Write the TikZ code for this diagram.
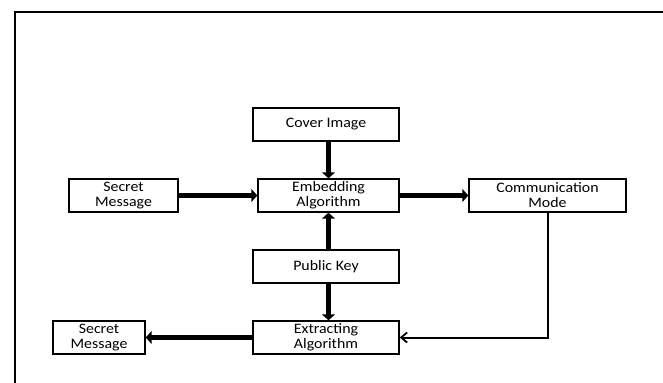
\documentclass[tikz,border=0pt]{standalone}
\usepackage{fontspec}
\setmainfont{Carlito}[FakeStretch=1.1]
\usetikzlibrary{arrows.meta}
\begin{document}
\begin{tikzpicture}[x=1bp,y=-1bp,
  blockbox/.style={draw,line width=1.4bp,rectangle,inner sep=0pt,minimum height=33bp,
    align=center,font=\fontsize{14.5}{15}\selectfont},
  thickarrow/.style={line width=5bp,-{Triangle[length=6bp,width=13bp]}},
  thinarrow/.style={line width=2bp,-{Straight Barb[length=6bp,width=10bp,line width=1.8bp]}}]
\useasboundingbox (0,0) rectangle (663,382);
\clip (0,0) rectangle (663,382);
\draw[line width=2bp] (15,390) -- (15,12) -- (670,12);
\node[blockbox,minimum width=146bp] (cover) at (326,124.5) {Cover Image};
\node[blockbox,minimum width=141bp] (emb) at (328.5,195.5) {Embedding\\Algorithm};
\node[blockbox,minimum width=109bp] (sm1) at (123.5,195.5) {Secret\\Message};
\node[blockbox,minimum width=157bp] (comm) at (547.5,195.5) {Communication\\Mode};
\node[blockbox,minimum width=146bp] (pk) at (326,266.5) {Public Key};
\node[blockbox,minimum width=146bp] (ext) at (326,337.5) {Extracting\\Algorithm};
\node[blockbox,minimum width=92bp] (sm2) at (99,337.5) {Secret\\Message};
\draw[thickarrow] (emb.north |- cover.south) -- (emb.north);
\draw[thickarrow] (sm1.east) -- (emb.west);
\draw[thickarrow] (emb.east) -- (comm.west);
\draw[thickarrow] (emb.south |- pk.north) -- (emb.south);
\draw[thickarrow] (emb.south |- pk.south) -- (emb.south |- ext.north);
\draw[thickarrow] (ext.west) -- (sm2.east);
\draw[thinarrow] (comm.south) -- (comm.south |- ext.east) -- (ext.east);
\end{tikzpicture}
\end{document}
